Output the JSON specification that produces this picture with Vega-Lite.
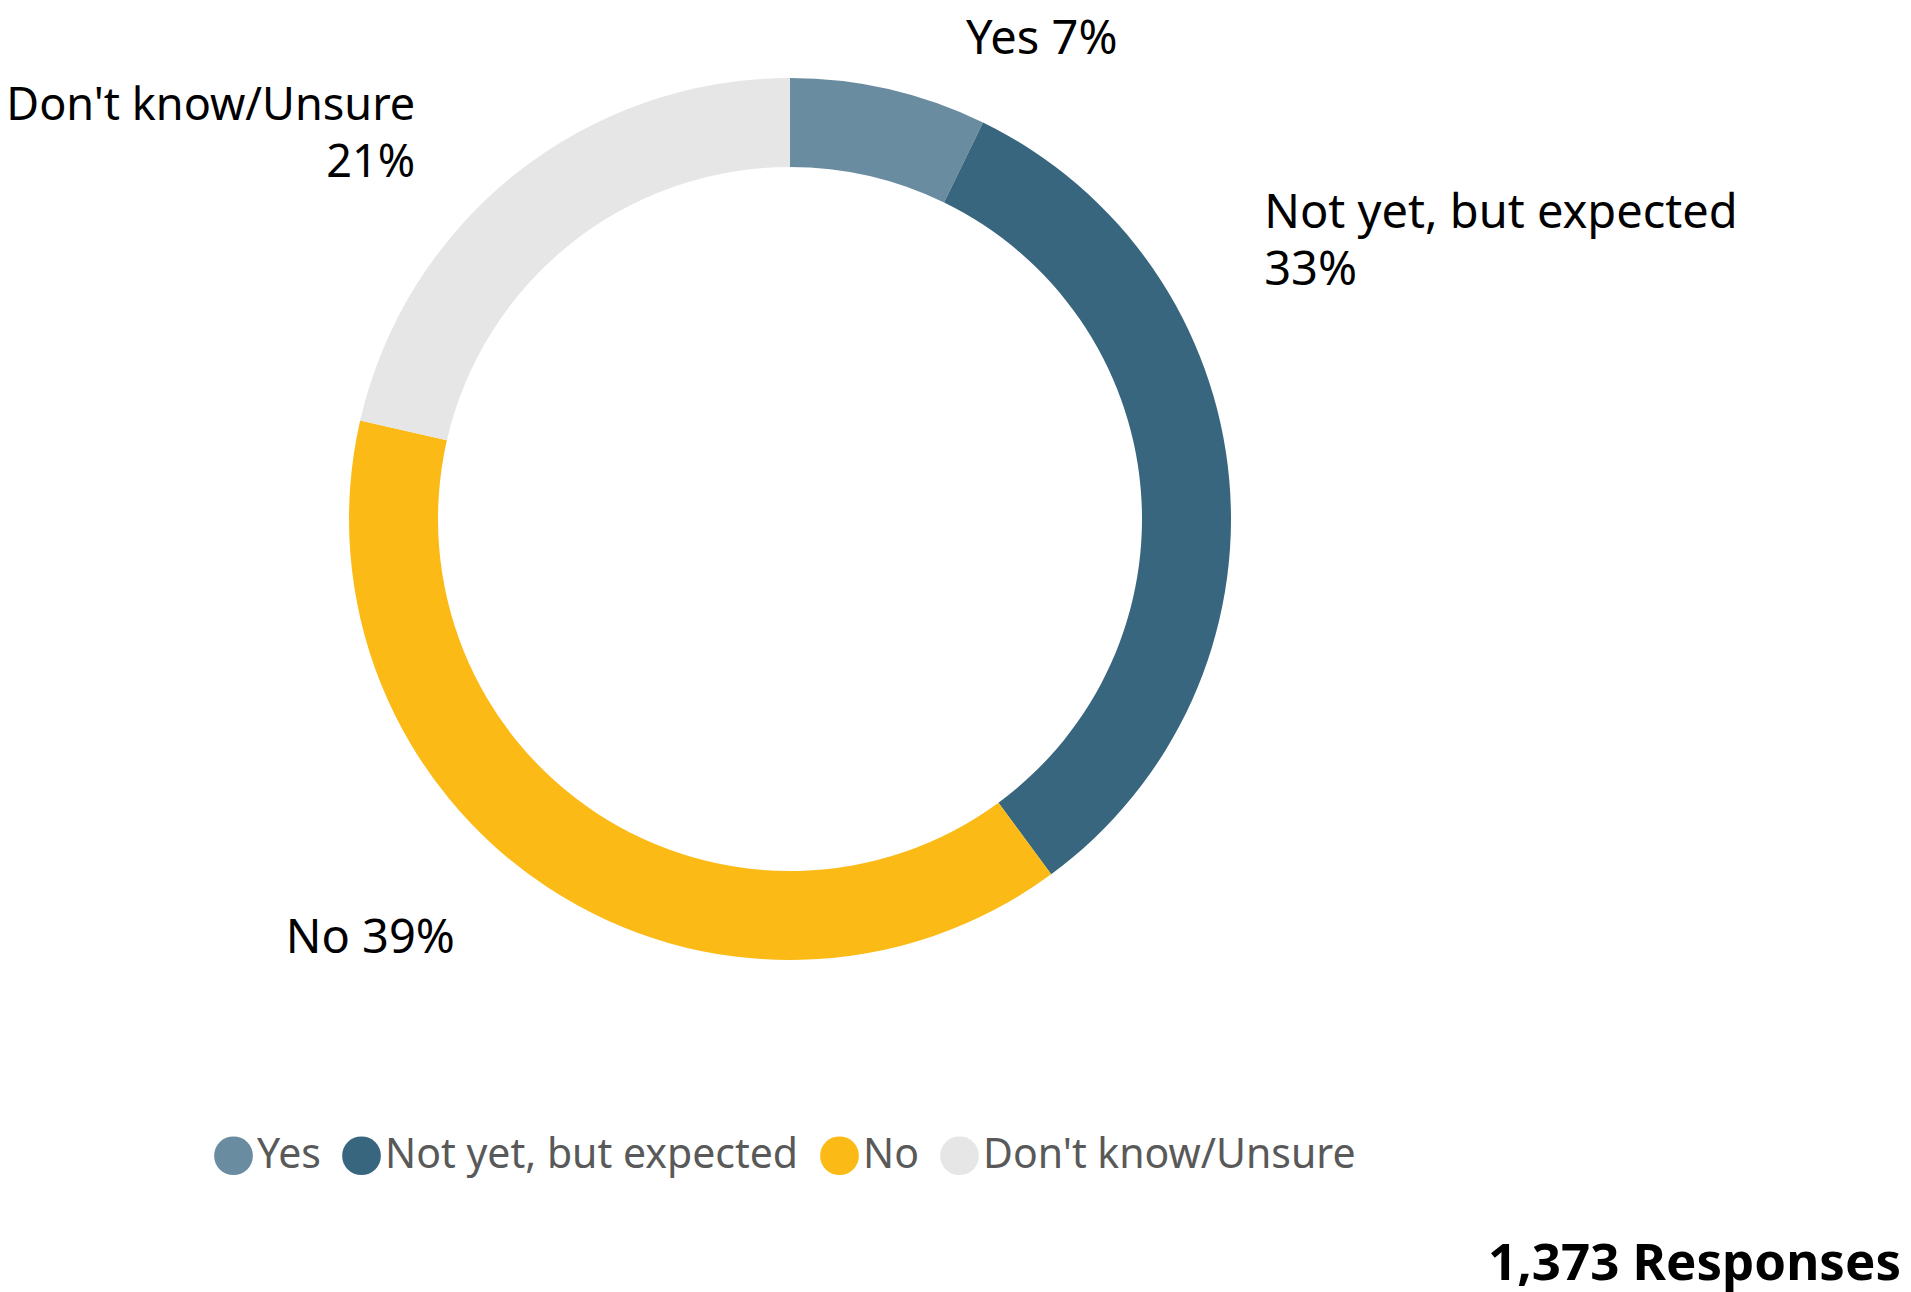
{
  "$schema": "https://vega.github.io/schema/vega-lite/v6.json",
  "width": 1580,
  "height": 1038,
  "autosize": "none",
  "padding": {"left": 0, "top": 0, "right": 331, "bottom": 254},
  "background": "white",
  "config": {"view": {"stroke": null}, "font": "Noto Sans"},
  "title": {"text": "1,373 Responses", "orient": "bottom", "anchor": "end", "frame": "group", "dx": 321, "offset": 64, "fontSize": 51, "fontWeight": "bold", "color": "#000000", "font": "Noto Sans"},
  "data": {"values": [
    {"answer": "Yes", "count": 99, "idx": 1, "label": "Yes 7%"},
    {"answer": "Not yet, but expected", "count": 449, "idx": 2, "label": "Not yet, but expected\n33%"},
    {"answer": "No", "count": 531, "idx": 3, "label": "No 39%"},
    {"answer": "Don't know/Unsure", "count": 294, "idx": 4, "label": "Don't know/Unsure\n21%"}
  ]},
  "encoding": {
    "theta": {"field": "count", "type": "quantitative", "stack": true},
    "order": {"field": "idx", "type": "quantitative"}
  },
  "layer": [
    {
      "mark": {"type": "arc", "outerRadius": 441, "innerRadius": 352},
      "encoding": {
        "color": {"field": "answer", "type": "nominal",
          "scale": {"domain": ["Yes", "Not yet, but expected", "No", "Don't know/Unsure"], "range": ["#6a8ca0", "#39667f", "#fbba16", "#e6e6e6"]},
          "legend": {"title": null, "orient": "none", "legendX": 213, "legendY": 1135, "direction": "horizontal", "symbolType": "circle", "symbolSize": 1500, "symbolStrokeWidth": 0, "labelFontSize": 41, "labelColor": "#595959", "labelFont": "Noto Sans", "labelLimit": 0, "labelOffset": 3, "columnPadding": 20}
        }
      }
    },
    {
      "mark": {"type": "text", "radius": 441, "align": "left", "baseline": "middle", "dx": 77, "dy": -49, "fontSize": 47, "color": "#000000"},
      "encoding": {"text": {"condition": {"test": "datum.answer === 'Yes'", "field": "label"}, "value": ""}}
    },
    {
      "mark": {"type": "text", "radius": 441, "align": "left", "baseline": "middle", "dx": 35, "dy": -265, "fontSize": 47, "lineHeight": 57, "lineBreak": "\n", "color": "#000000"},
      "encoding": {"text": {"condition": {"test": "datum.answer === 'Not yet, but expected'", "field": "label"}, "value": ""}}
    },
    {
      "mark": {"type": "text", "radius": 441, "align": "right", "baseline": "middle", "dx": -93, "dy": 51, "fontSize": 47, "color": "#000000"},
      "encoding": {"text": {"condition": {"test": "datum.answer === 'No'", "field": "label"}, "value": ""}}
    },
    {
      "mark": {"type": "text", "radius": 441, "align": "right", "baseline": "middle", "dx": -100, "dy": -68, "fontSize": 45, "lineHeight": 57, "lineBreak": "\n", "color": "#000000"},
      "encoding": {"text": {"condition": {"test": "datum.answer === \"Don't know/Unsure\"", "field": "label"}, "value": ""}}
    }
  ]
}
